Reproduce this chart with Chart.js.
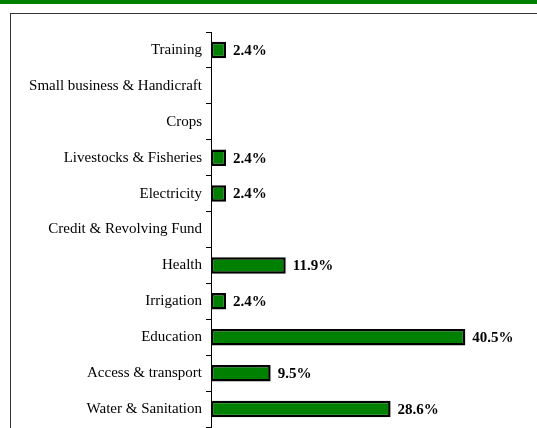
<!DOCTYPE html>
<html lang="en">
<head>
    <meta charset="UTF-8">
    <title>Projects by sector</title>
    <style>
        body {
            margin: 0;
            width: 537px;
            height: 428px;
            overflow: hidden;
            background: white;
            position: relative;
        }
        #header {
            position: absolute;
            left: 0;
            top: 0;
            width: 537px;
            height: 4px;
            background-color: #008000;
        }
        #frame {
            position: absolute;
            left: 10px;
            top: 13px;
            width: 600px;
            height: 500px;
            border: 1px solid #333;
        }
        #chart-box {
            position: absolute;
            left: 0;
            top: 0;
            width: 537px;
            height: 428px;
        }
    </style>
    <script src="https://cdn.jsdelivr.net/npm/chart.js"></script>
</head>
<body>
    <div id="header"></div>
    <div id="frame"></div>
    <div id="chart-box">
        <canvas id="sectorChart" width="537" height="428"></canvas>
    </div>

    <script>
        const sectors = [
            'Training',
            'Small business & Handicraft',
            'Crops',
            'Livestocks & Fisheries',
            'Electricity',
            'Credit & Revolving Fund',
            'Health',
            'Irrigation',
            'Education',
            'Access & transport',
            'Water & Sanitation'
        ];
        const shares = [2.4, 0, 0, 2.4, 2.4, 0, 11.9, 2.4, 40.5, 9.5, 28.6];

        // draws the "x.x%" text right of each bar
        const valueLabels = {
            id: 'valueLabels',
            afterDatasetsDraw(chart) {
                const ctx = chart.ctx;
                const meta = chart.getDatasetMeta(0);
                ctx.save();
                ctx.font = 'bold 15px "Liberation Serif"';
                ctx.fillStyle = '#000';
                ctx.textBaseline = 'middle';
                ctx.textAlign = 'left';
                meta.data.forEach((bar, i) => {
                    if (!shares[i]) return;
                    ctx.fillText(shares[i].toFixed(1) + '%', bar.x + 7, bar.y + 1);
                });
                ctx.restore();
            }
        };

        new Chart(document.getElementById('sectorChart'), {
            type: 'bar',
            data: {
                labels: sectors,
                datasets: [{
                    data: shares,
                    backgroundColor: '#008000',
                    borderColor: '#000',
                    borderWidth: ctx => (shares[ctx.dataIndex] ? 2.5 : 0),
                    borderSkipped: false,
                    barPercentage: 0.46,
                    categoryPercentage: 1
                }]
            },
            options: {
                indexAxis: 'y',
                responsive: false,
                animation: false,
                events: [],
                layout: {
                    padding: { top: 32, bottom: 1, left: 0, right: 12 }
                },
                plugins: {
                    legend: { display: false },
                    tooltip: { enabled: false }
                },
                scales: {
                    x: {
                        display: false,
                        min: 0,
                        max: 50
                    },
                    y: {
                        afterFit(scale) {
                            scale.width = 211;
                            scale.paddingTop = 0;
                            scale.paddingBottom = 0;
                        },
                        grid: {
                            offset: true,
                            drawOnChartArea: false,
                            tickLength: 5,
                            color: '#000'
                        },
                        border: {
                            display: true,
                            color: '#000',
                            width: 1
                        },
                        ticks: {
                            color: '#000',
                            padding: 4,
                            font: { family: '"Liberation Serif"', size: 15 }
                        }
                    }
                }
            },
            plugins: [valueLabels]
        });
    </script>
</body>
</html>
